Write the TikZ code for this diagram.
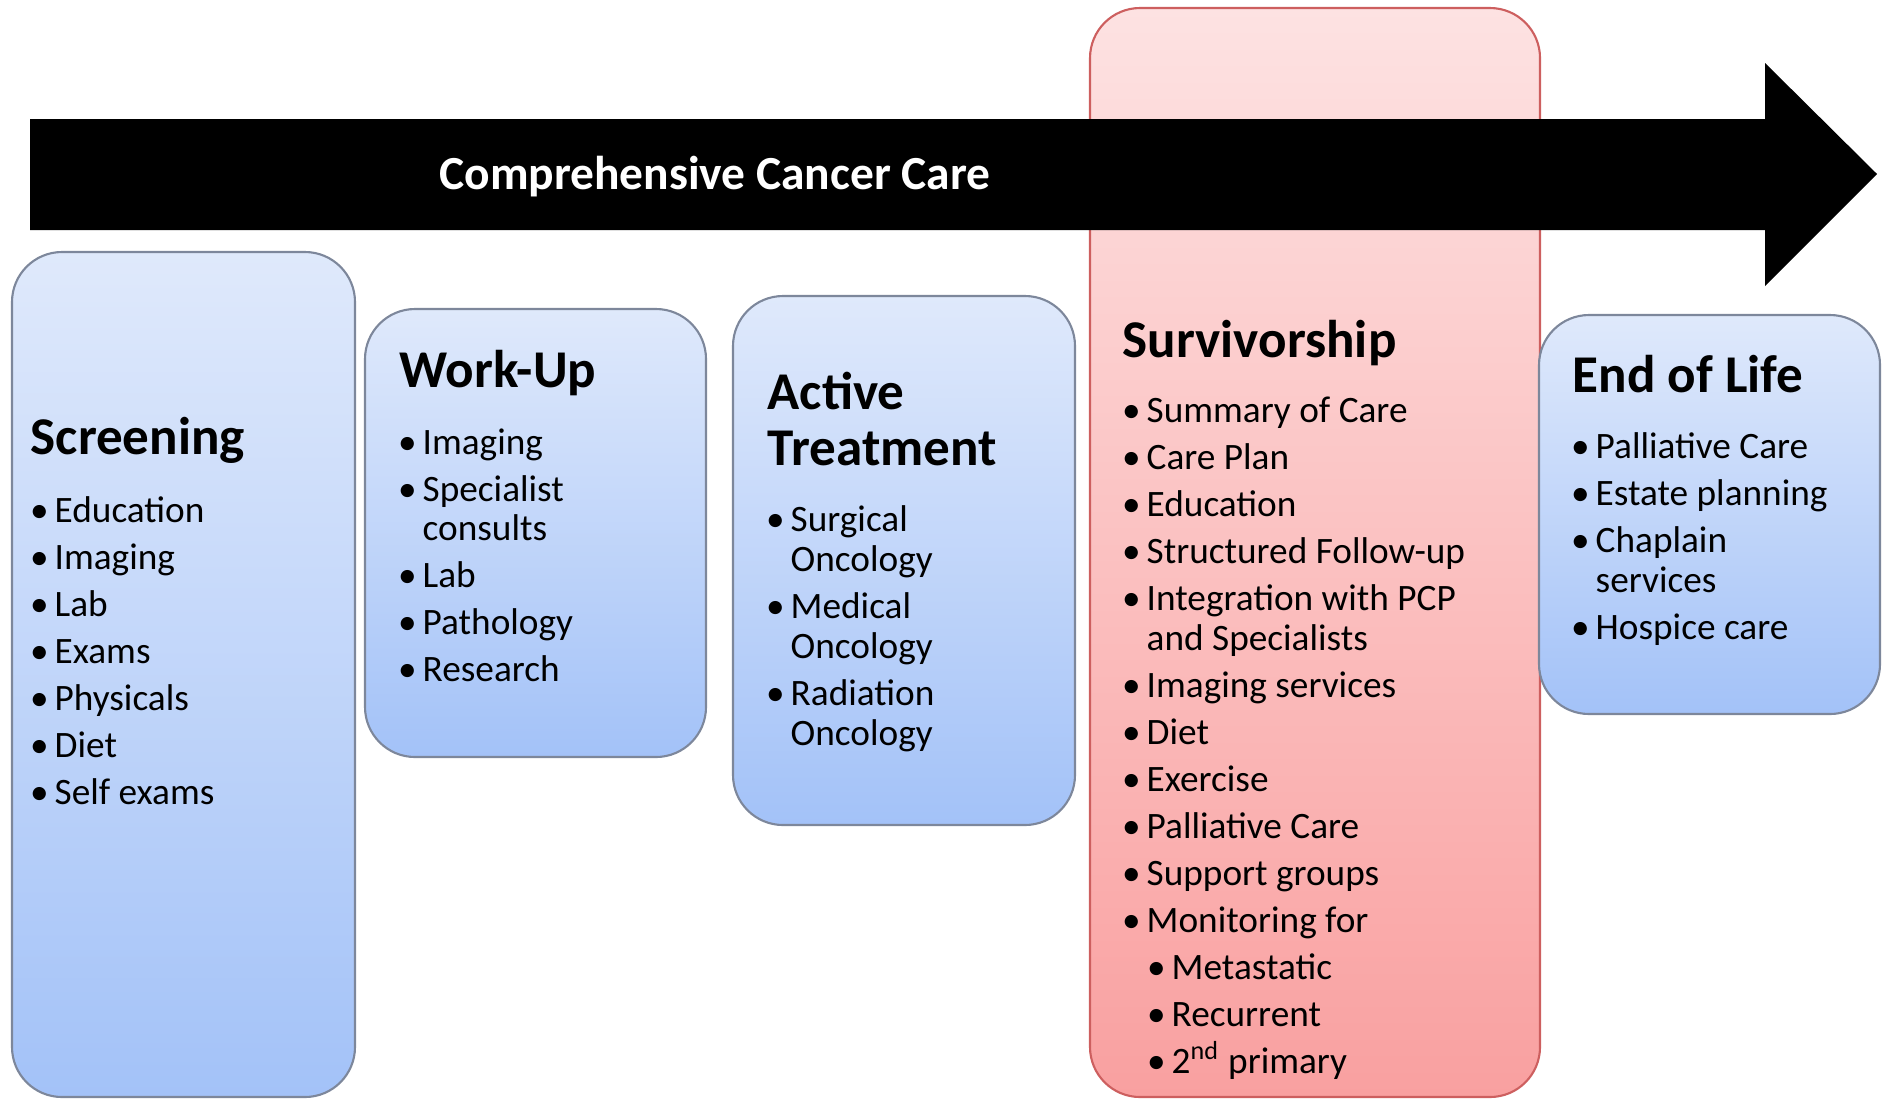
\documentclass[tikz,border=0pt]{standalone}
\usepackage{fontspec}
\setmainfont{Carlito}
\usepackage{tikz}

\definecolor{bluetop}{RGB}{223,233,251}
\definecolor{bluebot}{RGB}{163,194,248}
\definecolor{redtop}{RGB}{253,226,226}
\definecolor{redbot}{RGB}{249,160,160}
\definecolor{blueline}{RGB}{125,135,155}
\definecolor{redline}{RGB}{205,95,95}

\newcommand{\bul}{\llap{\textbullet\hspace{0.6mm}}}

\tikzset{
  stage/.style={draw=blueline, line width=0.6pt, rounded corners=5mm, top color=bluetop, bottom color=bluebot},
  survstage/.style={stage, draw=redline, top color=redtop, bottom color=redbot},
  head/.style={anchor=base west, inner sep=0pt, font=\fontsize{15.1}{18}\selectfont\bfseries},
  item/.style={anchor=base west, inner sep=0pt, font=\fontsize{10.6}{13}\selectfont},
}

\begin{document}
\begin{tikzpicture}[x=0.01cm, y=-0.01cm]
    \useasboundingbox (0,0) rectangle (1885,1099);

    % survivorship column runs behind the arrow
    \draw[survstage] (1090,8) rectangle (1540,1097);

    % the big arrow
    \fill[black] (30,119) -- (1765,119) -- (1765,63) -- (1877,174) -- (1765,286) -- (1765,230) -- (30,230) -- cycle;
    \node[anchor=base, inner sep=0pt, text=white, font=\fontsize{13.5}{16}\selectfont\bfseries] (care) at (715,189) {Comprehensive Cancer Care};

    % stage boxes
    \draw[stage] (12,252) rectangle (355,1097);
    \draw[stage] (365,309) rectangle (706,757);
    \draw[stage] (733,296) rectangle (1075,825);
    \draw[stage] (1539,315) rectangle (1880,714);

    % Screening
    \node[head] (scr) at (30,454) {Screening};
    \foreach \y/\txt [count=\i] in {522/\bul Education, 569/\bul Imaging, 616/\bul Lab, 663/\bul Exams,
        710/\bul Physicals, 757/\bul Diet, 804/\bul Self exams}
        \node[item] (scr\i) at (54,\y) {\txt};

    % Work-Up
    \node[head] (wu) at (399,387) {Work-Up};
    \foreach \y/\txt [count=\i] in {454/\bul Imaging, 501/\bul Specialist, 540/consults, 587/\bul Lab,
        634/\bul Pathology, 681/\bul Research}
        \node[item] (wu\i) at (422,\y) {\txt};

    % Active Treatment
    \node[head] (act) at (767,409) {Active};
    \node[head] (act0) at (767,465) {Treatment};
    \foreach \y/\txt [count=\i] in {531/\bul Surgical, 571/Oncology, 618/\bul Medical, 658/Oncology,
        705/\bul Radiation, 745/Oncology}
        \node[item] (act\i) at (790,\y) {\txt};

    % Survivorship
    \node[head] (surv) at (1122,357) {Survivorship};
    \foreach \y/\txt [count=\i] in {422/\bul Summary of Care, 469/\bul Care Plan, 516/\bul Education,
        563/\bul Structured Follow-up, 610/\bul Integration with PCP, 650/and Specialists,
        697/\bul Imaging services, 744/\bul Diet, 791/\bul Exercise, 838/\bul Palliative Care,
        885/\bul Support groups, 932/\bul Monitoring for}
        \node[item] (surv\i) at (1146,\y) {\txt};
    \foreach \y/\txt [count=\i] in {979/\bul Metastatic, 1026/\bul Recurrent, 1073/\bul 2\textsuperscript{nd} primary}
        \node[item] (mon\i) at (1171,\y) {\txt};

    % End of Life
    \node[head] (eol) at (1572,392) {End of Life};
    \foreach \y/\txt [count=\i] in {458/\bul Palliative Care, 505/\bul Estate planning, 552/\bul Chaplain,
        592/services, 639/\bul Hospice care}
        \node[item] (eol\i) at (1595,\y) {\txt};
\end{tikzpicture}
\end{document}
